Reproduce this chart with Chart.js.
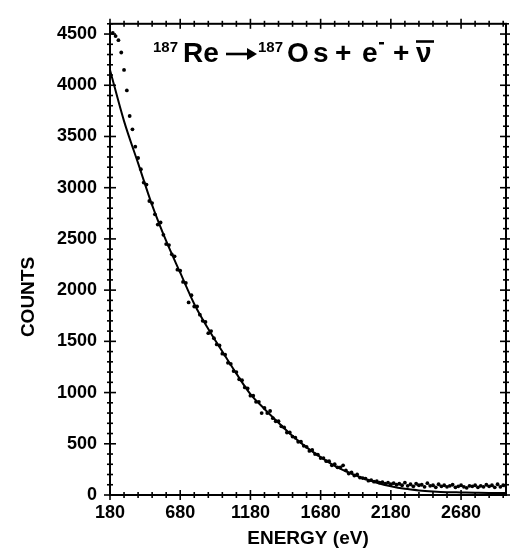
<!DOCTYPE html>
<html>
<head>
<meta charset="utf-8">
<script src="https://cdn.jsdelivr.net/npm/chart.js@4.4.1/dist/chart.umd.min.js"></script>
<style>
  html, body { margin: 0; padding: 0; background: #fff; }
</style>
</head>
<body>
<canvas id="spectrum" width="510" height="554"></canvas>
<script>
// measured spectrum (dots), 20 eV channels
const energy = [
  200, 220, 240, 260, 280, 300, 320, 340, 360, 380,
  400, 420, 440, 460, 480, 500, 520, 540, 560, 580,
  600, 620, 640, 660, 680, 700, 720, 740, 760, 780,
  800, 820, 840, 860, 880, 900, 920, 940, 960, 980,
  1000, 1020, 1040, 1060, 1080, 1100, 1120, 1140, 1160, 1180,
  1200, 1220, 1240, 1260, 1280, 1300, 1320, 1340, 1360, 1380,
  1400, 1420, 1440, 1460, 1480, 1500, 1520, 1540, 1560, 1580,
  1600, 1620, 1640, 1660, 1680, 1700, 1720, 1740, 1760, 1780,
  1800, 1820, 1840, 1860, 1880, 1900, 1920, 1940, 1960, 1980,
  2000, 2020, 2040, 2060, 2080, 2100, 2120, 2140, 2160, 2180,
  2200, 2220, 2240, 2260, 2280, 2300, 2320, 2340, 2360, 2380,
  2400, 2420, 2440, 2460, 2480, 2500, 2520, 2540, 2560, 2580,
  2600, 2620, 2640, 2660, 2680, 2700, 2720, 2740, 2760, 2780,
  2800, 2820, 2840, 2860, 2880, 2900, 2920, 2940, 2960, 2980,
  3000
];
const counts = [
  4510, 4480, 4440, 4320, 4150, 3950, 3700, 3570, 3400, 3290,
  3180, 3050, 3030, 2870, 2850, 2740, 2640, 2660, 2540, 2450,
  2440, 2350, 2330, 2200, 2190, 2080, 2070, 1880, 1950, 1840,
  1840, 1760, 1700, 1690, 1580, 1600, 1530, 1470, 1460, 1380,
  1370, 1290, 1280, 1210, 1200, 1130, 1120, 1050, 1040, 970,
  970, 910, 910, 800, 850, 800, 820, 750, 720, 720,
  670, 660, 610, 610, 570, 560, 520, 520, 480, 470,
  430, 440, 400, 395, 360, 360, 330, 330, 290, 300,
  270, 270, 290, 240, 210, 220, 190, 200, 170, 165,
  160, 140, 145, 130, 135, 120, 125, 110, 120, 105,
  115, 100, 110, 95, 120, 90, 105, 85, 110, 95,
  100, 80, 115, 90, 95, 75, 105, 85, 95, 80,
  90, 100, 75, 85, 95, 80, 70, 90, 85, 95,
  75, 90, 80, 100, 85, 95, 75, 105, 80, 95,
  90
];

// fitted beta spectrum (solid line)
const fitEnergy = [
  180, 280, 380, 480, 580, 680, 780, 880, 980, 1080,
  1180, 1280, 1380, 1480, 1580, 1680, 1780, 1880, 1980, 2080,
  2180, 2280, 2380, 2480, 2580, 2680, 2780, 2880, 2980, 3000
];
const fitCounts = [
  4150, 3650, 3240, 2830, 2480, 2170, 1865, 1620, 1400, 1185,
  985, 840, 705, 575, 465, 370, 285, 220, 165, 120,
  85, 60, 45, 35, 28, 25, 22, 20, 20, 20
];

const xTicks = [180, 680, 1180, 1680, 2180, 2680];
const yTicks = [0, 500, 1000, 1500, 2000, 2500, 3000, 3500, 4000, 4500];

const bold = (size) => `bold ${size}px 'Liberation Sans', Arial, Helvetica, sans-serif`;

function line(ctx, x1, y1, x2, y2) {
  ctx.beginPath();
  ctx.moveTo(x1, y1);
  ctx.lineTo(x2, y2);
  ctx.stroke();
}

// box, crossing ticks on all four sides, axis titles, reaction
const framePlugin = {
  id: "frame",
  afterDraw(chart) {
    const { ctx, chartArea: a, scales } = chart;
    const x = scales.x, y = scales.y;
    ctx.save();
    ctx.strokeStyle = "#000";
    ctx.fillStyle = "#000";
    ctx.lineWidth = 2;
    ctx.strokeRect(a.left, a.top, a.right - a.left, a.bottom - a.top);

    ctx.lineWidth = 1.6;
    for (let v = 180; v <= 3000; v += 100) {
      const px = x.getPixelForValue(v);
      const len = xTicks.includes(v) ? 5 : 3;
      line(ctx, px, a.bottom - len, px, a.bottom + len);
      line(ctx, px, a.top - len, px, a.top + len);
    }
    for (let v = 0; v <= 4600; v += 100) {
      const py = y.getPixelForValue(v);
      const len = yTicks.includes(v) ? 6 : 3;
      line(ctx, a.left - len, py, a.left + len, py);
      line(ctx, a.right - len, py, a.right + len, py);
    }

    // axis titles
    ctx.textAlign = "center";
    ctx.textBaseline = "middle";
    ctx.font = bold(19);
    ctx.fillText("ENERGY (eV)", (a.left + a.right) / 2, 539);
    ctx.save();
    ctx.translate(29, 297);
    ctx.rotate(-Math.PI / 2);
    ctx.fillText("COUNTS", 0, 0);
    ctx.restore();

    // 187Re -> 187Os + e- + anti-nu
    ctx.textAlign = "left";
    ctx.textBaseline = "alphabetic";
    const base = 62;
    ctx.font = bold(15);
    ctx.fillText("187", 153, base - 10);
    ctx.fillText("187", 258, base - 10);
    ctx.font = bold(28);
    ctx.fillText("Re", 183, base);
    ctx.fillText("O", 287, base);
    ctx.fillText("s", 313, base);
    ctx.fillText("+", 335, base);
    ctx.fillText("e", 362, base);
    ctx.fillText("+", 393, base);
    ctx.fillText("ν", 416, base);
    ctx.fillRect(379, 42, 5, 2.5);
    // arrow
    ctx.lineWidth = 2.6;
    line(ctx, 226, 54, 254, 54);
    ctx.beginPath();
    ctx.moveTo(257, 54);
    ctx.lineTo(247, 48);
    ctx.lineTo(247, 60);
    ctx.closePath();
    ctx.fill();
    // bar over nu
    line(ctx, 416, 41.5, 434, 41.5);
    ctx.restore();
  },
};

const tickFont = { family: "'Liberation Sans', Arial, sans-serif", size: 18, weight: "bold" };

const ctx = document.getElementById("spectrum").getContext("2d");
new Chart(ctx, {
  type: "scatter",
  data: {
    datasets: [
      {
        label: "data",
        data: energy.map((e, i) => ({ x: e, y: counts[i] })),
        backgroundColor: "#000",
        borderWidth: 0,
        pointRadius: 1.9,
        showLine: false,
      },
      {
        label: "fit",
        data: fitEnergy.map((e, i) => ({ x: e, y: fitCounts[i] })),
        borderColor: "#000",
        borderWidth: 2,
        pointRadius: 0,
        showLine: true,
        cubicInterpolationMode: "monotone",
      },
    ],
  },
  options: {
    responsive: false,
    animation: false,
    devicePixelRatio: 1,
    layout: { padding: { top: 6, right: 2, left: 0, bottom: 0 } },
    plugins: { legend: { display: false }, tooltip: { enabled: false } },
    scales: {
      x: {
        type: "linear",
        min: 180,
        max: 3000,
        grid: { display: false, drawTicks: false },
        border: { display: false },
        afterBuildTicks: (scale) => {
          scale.ticks = xTicks.map((v) => ({ value: v }));
        },
        afterFit: (scale) => {
          scale.height = 59;
        },
        ticks: {
          autoSkip: false,
          maxRotation: 0,
          padding: 7,
          color: "#000",
          font: tickFont,
          callback: (v) => String(v),
        },
      },
      y: {
        type: "linear",
        min: 0,
        max: 4600,
        grid: { display: false, drawTicks: false },
        border: { display: false },
        afterBuildTicks: (scale) => {
          scale.ticks = yTicks.map((v) => ({ value: v }));
        },
        afterFit: (scale) => {
          scale.width = 110;
        },
        ticks: {
          autoSkip: false,
          padding: 13,
          color: "#000",
          font: tickFont,
          callback: (v) => String(v),
        },
      },
    },
  },
  plugins: [framePlugin],
});
</script>
</body>
</html>
